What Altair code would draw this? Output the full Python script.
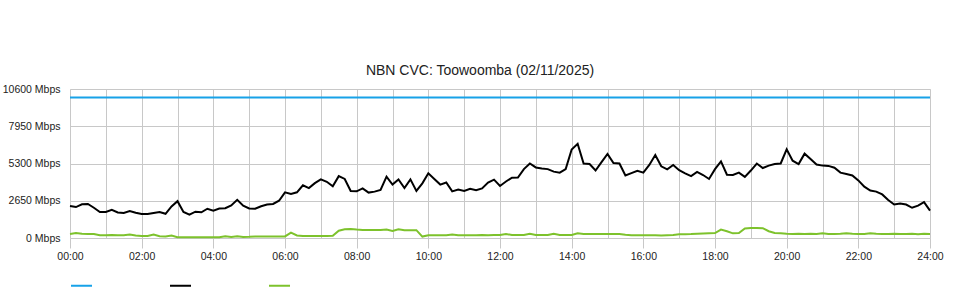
import altair as alt
import pandas as pd

# ---------------- data ----------------
series_names = ["CVC Capacity", "Download", "Upload"]
series_colors = ["#17a2e8", "#000000", "#7dc22c"]

# capacity line (Mbps)
capacity_hours = [0, 24]
capacity_mbps = [10000, 10000]

# 10-minute samples, 00:00 .. 24:00 (145 values)
step_minutes = 10
download_mbps = [
    2280, 2200, 2400, 2420, 2150, 1850, 1850, 2000, 1820, 1780,
    1920, 1800, 1710, 1700, 1780, 1850, 1720, 2250, 2620, 1850,
    1660, 1870, 1830, 2080, 1950, 2100, 2120, 2320, 2720, 2300,
    2100, 2080, 2260, 2380, 2420, 2650, 3250, 3130, 3250, 3750,
    3550, 3900, 4170, 4000, 3680, 4400, 4200, 3340, 3320, 3530,
    3230, 3300, 3420, 4360, 3800, 4170, 3550, 4170, 3350, 3890,
    4600, 4200, 3800, 3950, 3320, 3450, 3350, 3500, 3400, 3530,
    3940, 4150, 3700, 4020, 4290, 4300, 4900, 5300, 5020, 4950,
    4900, 4720, 4650, 4900, 6300, 6700, 5300, 5260, 4800, 5400,
    5980, 5330, 5300, 4450, 4620, 4780, 4650, 5200, 5900, 5100,
    4880, 5190, 4820, 4600, 4400, 4700, 4480, 4200, 4900, 5450,
    4500, 4480, 4650, 4350, 4800, 5300, 4980, 5150, 5260, 5300,
    6310, 5500, 5260, 6000, 5620, 5230, 5150, 5130, 5000, 4650,
    4550, 4450, 4100, 3650, 3380, 3300, 3100, 2700, 2380, 2450,
    2380, 2150, 2300, 2550, 1950,
]
upload_mbps = [
    285, 350, 300, 290, 285, 200, 190, 210, 190, 200,
    240, 180, 150, 140, 240, 120, 110, 170, 60, 50,
    50, 50, 50, 50, 60, 60, 130, 80, 120, 80,
    90, 110, 110, 110, 110, 100, 110, 380, 180, 140,
    140, 140, 140, 140, 160, 520, 620, 640, 600, 570,
    570, 570, 570, 600, 500, 620, 560, 560, 560, 100,
    190, 200, 200, 190, 250, 200, 190, 200, 200, 210,
    200, 210, 210, 290, 210, 210, 210, 300, 210, 210,
    210, 300, 220, 220, 220, 330, 290, 285, 285, 285,
    285, 285, 285, 230, 200, 200, 190, 190, 200, 180,
    200, 220, 260, 270, 280, 300, 320, 340, 350, 600,
    480, 330, 360, 680, 710, 720, 700, 480, 360, 330,
    300, 290, 310, 290, 300, 280, 330, 290, 280, 300,
    330, 300, 290, 280, 330, 300, 280, 290, 300, 280,
    290, 300, 270, 300, 290,
]

# y-axis ticks and x-axis hours
y_ticks = [0, 2650, 5300, 7950, 10600]
x_hours = list(range(25))
title_text = "NBN CVC: Toowoomba (02/11/2025)"

# ---------------- table ----------------
rows = []
for h, v in zip(capacity_hours, capacity_mbps):
    rows.append({"hour": h, "mbps": v, "series": series_names[0]})
for i, v in enumerate(download_mbps):
    rows.append({"hour": i * step_minutes / 60, "mbps": v, "series": series_names[1]})
for i, v in enumerate(upload_mbps):
    rows.append({"hour": i * step_minutes / 60, "mbps": v, "series": series_names[2]})
df = pd.DataFrame(rows)

FONT = "Liberation Sans"
GRID = "#c8c8c8"

x_axis = alt.Axis(
    values=x_hours,
    labelExpr="datum.value % 2 == 0 ? (datum.value < 10 ? '0' : '') + datum.value + ':00' : ''",
    tickColor={"condition": {"test": "datum.value % 2 == 1", "value": "transparent"}, "value": GRID},
    tickSize=10,
    grid=True,
    gridColor=GRID,
    domain=False,
    labelFlush=False,
    labelOverlap=False,
    labelFont=FONT,
    labelFontSize=10.5,
    labelColor="#222222",
    labelPadding=3,
    title=None,
)
y_axis = alt.Axis(
    values=y_ticks,
    labelExpr="datum.value + ' Mbps'",
    ticks=False,
    grid=True,
    gridColor=GRID,
    domain=False,
    labelFont=FONT,
    labelFontSize=10.5,
    labelColor="#222222",
    labelPadding=10,
    title=None,
)

chart = (
    alt.Chart(df)
    .mark_line(strokeWidth=2, interpolate="linear")
    .encode(
        x=alt.X("hour:Q", scale=alt.Scale(domain=[0, 24], nice=False), axis=x_axis),
        y=alt.Y("mbps:Q", scale=alt.Scale(domain=[0, 10600], nice=False), axis=y_axis),
        color=alt.Color(
            "series:N",
            scale=alt.Scale(domain=series_names, range=series_colors),
            sort=series_names,
            legend=alt.Legend(
                orient="none",
                legendX=0,
                legendY=185,
                direction="horizontal",
                title=None,
                symbolType="stroke",
                symbolSize=441,
                symbolStrokeWidth=2,
                labelExpr="''",
                labelOffset=0,
                columnPadding=70,
                padding=0,
            ),
        ),
    )
    .properties(
        width=860,
        height=149,
        title=alt.TitleParams(
            title_text,
            font=FONT,
            fontSize=14,
            fontWeight="normal",
            color="#222222",
            anchor="middle",
            dx=-20,
            offset=6,
        ),
        padding={"left": 70, "top": 89, "right": 30, "bottom": 62},
        autosize=alt.AutoSizeParams(type="none"),
    )
    .configure_view(strokeWidth=0)
    .configure(background="white")
)

chart.save("out.html", embed_options={"renderer": "svg", "actions": False})
